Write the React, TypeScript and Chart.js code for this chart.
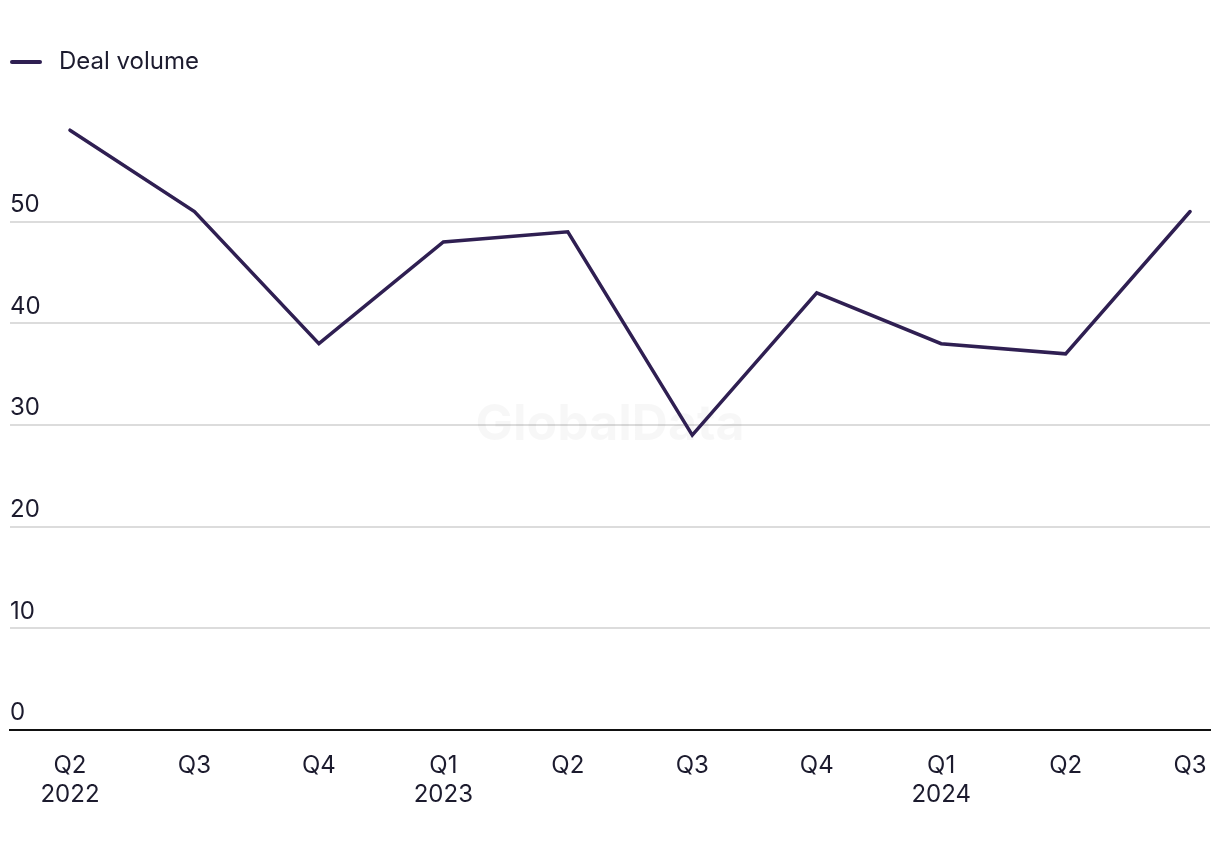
import React, { useEffect, useRef } from "react";
import { Chart, registerables } from "chart.js";

Chart.register(...registerables);

const quarters = ["Q2", "Q3", "Q4", "Q1", "Q2", "Q3", "Q4", "Q1", "Q2", "Q3"];
const years = ["2022", "", "", "2023", "", "", "", "2024", "", ""];
const dealVolume = [59, 51, 38, 48, 49, 29, 43, 38, 37, 51];
const yTicks = [0, 10, 20, 30, 40, 50];
const seriesLabel = "Deal volume";
const watermark = "GlobalData";

const LINE_COLOR = "#2f1f52";
const TEXT_COLOR = "#1c1b2e";
const FONT = "Inter, 'Noto Sans', sans-serif";

export default function App() {
  const canvasRef = useRef<HTMLCanvasElement | null>(null);

  useEffect(() => {
    document.body.style.margin = "0";
    const canvas = canvasRef.current;
    if (!canvas) return;

    const watermarkPlugin = {
      id: "watermark",
      beforeDatasetsDraw(chart: any) {
        const { ctx, chartArea } = chart;
        ctx.save();
        ctx.font = `bold 50px ${FONT}`;
        ctx.fillStyle = "rgba(0,0,0,0.03)";
        ctx.textAlign = "center";
        ctx.textBaseline = "middle";
        ctx.fillText(
          watermark,
          (chartArea.left + chartArea.right) / 2,
          (chartArea.top + chartArea.bottom) / 2
        );
        ctx.restore();
      },
    };

    const legendPlugin = {
      id: "customLegend",
      afterDraw(chart: any) {
        const { ctx } = chart;
        const ds = chart.data.datasets[0];
        ctx.save();
        ctx.strokeStyle = ds.borderColor;
        ctx.lineWidth = 4;
        ctx.lineCap = "round";
        ctx.beginPath();
        ctx.moveTo(12, 62);
        ctx.lineTo(40, 62);
        ctx.stroke();
        ctx.font = `24px ${FONT}`;
        ctx.fillStyle = TEXT_COLOR;
        ctx.textAlign = "left";
        ctx.textBaseline = "middle";
        ctx.fillText(ds.label, 59, 62);
        ctx.restore();
      },
    };

    const chart = new Chart(canvas, {
      type: "line",
      data: {
        datasets: [
          {
            label: seriesLabel,
            data: dealVolume.map((v, i) => ({ x: i, y: v })),
            borderColor: LINE_COLOR,
            backgroundColor: LINE_COLOR,
            borderWidth: 3.5,
            pointRadius: 0,
            tension: 0,
            borderCapStyle: "round",
          },
        ],
      },
      options: {
        responsive: false,
        animation: false,
        layout: { padding: { left: 10, right: 10, top: 120, bottom: 20 } },
        plugins: {
          legend: { display: false },
          tooltip: { enabled: false },
        },
        scales: {
          x: {
            type: "linear",
            min: -0.482,
            max: 9.16,
            grid: { display: false, drawTicks: false },
            border: { display: true, color: "#111111", width: 2 },
            afterBuildTicks(scale: any) {
              scale.ticks = quarters.map((_, i) => ({ value: i }));
            },
            afterFit(scale: any) {
              scale.paddingLeft = 0;
              scale.paddingRight = 0;
            },
            ticks: {
              autoSkip: false,
              maxRotation: 0,
              padding: 21,
              color: TEXT_COLOR,
              font: { family: FONT, size: 24, lineHeight: "29px" },
              callback(value: any) {
                const i = Math.round(Number(value));
                return years[i] ? [quarters[i], years[i]] : quarters[i];
              },
            },
          },
          y: {
            min: 0,
            max: 60,
            afterBuildTicks(scale: any) {
              scale.ticks = [...yTicks, 60].map((v) => ({ value: v }));
            },
            grid: {
              drawTicks: false,
              lineWidth: 2,
              color: (c: any) =>
                c.tick && c.tick.value === 60 ? "rgba(0,0,0,0)" : "#dcdcdc",
            },
            border: { display: false },
            ticks: {
              mirror: true,
              padding: 0,
              labelOffset: -17,
              color: TEXT_COLOR,
              font: { family: FONT, size: 24 },
              callback(value: any) {
                return yTicks.includes(Number(value)) ? String(value) : "";
              },
            },
          },
        },
      },
      plugins: [watermarkPlugin, legendPlugin],
    });

    return () => chart.destroy();
  }, []);

  return (
    <div style={{ width: 1220, height: 850, background: "#ffffff" }}>
      <canvas ref={canvasRef} width={1220} height={850} />
    </div>
  );
}
